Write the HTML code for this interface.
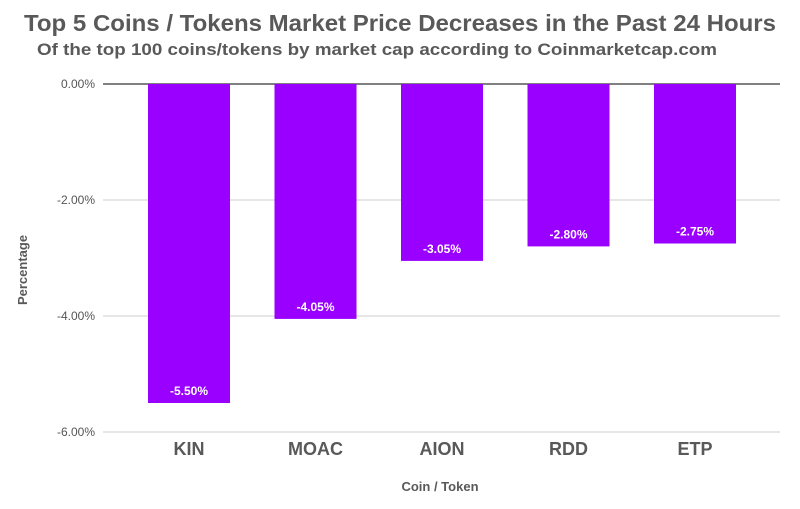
<!DOCTYPE html>
<html><head><meta charset="utf-8"><style>
html,body{margin:0;padding:0;background:#fff}
svg{display:block}
text{font-family:"Liberation Sans",sans-serif}
</style></head><body>
<svg id="chart" width="800" height="509">
<text x="400" y="31" text-anchor="middle" font-size="23" font-weight="bold" fill="#595959" textLength="752" lengthAdjust="spacingAndGlyphs">Top 5 Coins / Tokens Market Price Decreases in the Past 24 Hours</text>
<text x="377" y="55" text-anchor="middle" font-size="17" font-weight="bold" fill="#595959" textLength="680" lengthAdjust="spacingAndGlyphs">Of the top 100 coins/tokens by market cap according to Coinmarketcap.com</text>
<text x="440" y="491" text-anchor="middle" font-size="13" font-weight="bold" fill="#595959">Coin / Token</text>
<text transform="translate(27,270) rotate(-90)" text-anchor="middle" font-size="13" font-weight="bold" fill="#595959">Percentage</text>
<g id="grid"></g><g id="bars"></g>
</svg>
<script>
const categories=["KIN","MOAC","AION","RDD","ETP"];
const values=[-5.50,-4.05,-3.05,-2.80,-2.75];
const ticks=[0,-2,-4,-6];
const ns="http://www.w3.org/2000/svg";
const x0=103,x1=780,y0=84,pxPer=58;
function yS(v){return y0-v*pxPer;}
const band=126.5, bw=82;
function xS(i){return 148+band*i;}
const grid=document.getElementById('grid'),bars=document.getElementById('bars');
function mk(t,a,p){const e=document.createElementNS(ns,t);for(const k in a)e.setAttribute(k,a[k]);p.appendChild(e);return e;}
ticks.forEach((t,i)=>{
  const l=mk('line',{x1:x0,x2:x1,y1:yS(t),y2:yS(t),stroke:t===0?'#000':'#ccc','stroke-width':1},grid);
  
  
  const tx=mk('text',{x:95,y:yS(t)+4,'text-anchor':'end','font-size':12,fill:'#555'},grid);
  tx.textContent=t.toFixed(2)+'%';
  
  
});
categories.forEach((c,i)=>{
  const x=xS(i),v=values[i];
  const r=mk('rect',{x:x,y:yS(0),width:bw,height:yS(v)-yS(0),fill:'#9900ff'},bars);
  
  
  const t=mk('text',{x:x+bw/2,y:yS(v)-8,'text-anchor':'middle','font-size':12,'font-weight':'bold',fill:'#fff'},bars);
  t.textContent=v.toFixed(2)+'%';
  
  
  const cl=mk('text',{x:x+bw/2,y:455,'text-anchor':'middle','font-size':18,'font-weight':'bold',fill:'#595959'},bars);
  cl.textContent=c;
  
  
});
</script>
</body></html>
